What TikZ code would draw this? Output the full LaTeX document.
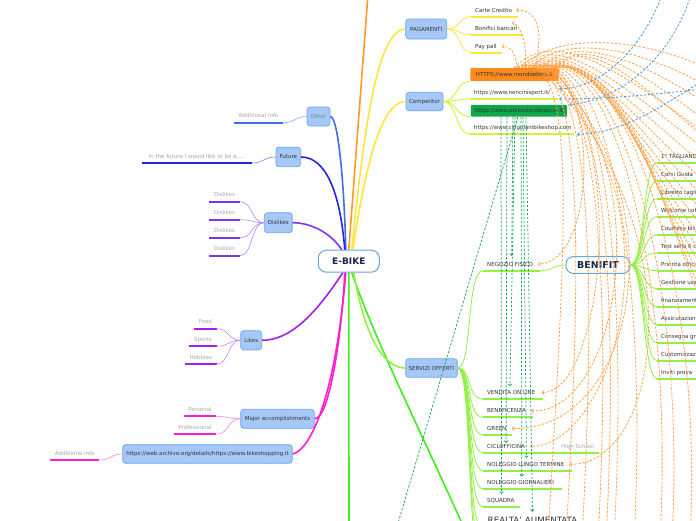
\documentclass[tikz,border=0pt]{standalone}
\usepackage{fontspec}
\setmainfont{DejaVu Sans}
\usetikzlibrary{arrows.meta,calc}
\definecolor{nfill}{HTML}{A5C8F7}
\definecolor{nbord}{HTML}{6DA4EE}
\definecolor{ctrbord}{HTML}{64A8DE}
\definecolor{navy}{HTML}{16264F}
\definecolor{txt}{HTML}{333333}
\definecolor{gry}{HTML}{A6A6A6}
\definecolor{corange}{HTML}{FF9A22}
\definecolor{cyellow}{HTML}{FFE63A}
\definecolor{cyg}{HTML}{D2F23C}
\definecolor{cblue1}{HTML}{3F6DF0}
\definecolor{cblue2}{HTML}{2424E8}
\definecolor{cpurp1}{HTML}{7A36F2}
\definecolor{cpurp2}{HTML}{A41EF2}
\definecolor{cmag}{HTML}{FF1ECF}
\definecolor{cgreen}{HTML}{3EEE1E}
\definecolor{clg}{HTML}{93F046}
\definecolor{dorange}{HTML}{FFA552}
\definecolor{dgreen}{HTML}{1BA65A}
\definecolor{dblue}{HTML}{4C9BE6}
\definecolor{cmondo}{HTML}{FF8A1C}
\definecolor{cebike}{HTML}{10A64A}
\newcommand{\fsm}{\fontsize{5.5}{6.6}\selectfont}
% left-aligned underlined leaf: name, x1, x2, y, line colour, text colour, text
\newcommand{\ulL}[7]{%
  \coordinate (#1-l) at (#2,#4);
  \coordinate (#1-r) at (#3,#4);
  \node[lftxt, text=#6, anchor=base west] (#1) at (#2+4,#4-4.5) {#7};
  \draw[ul, draw=#5] (#1-l) -- (#1-r);
}
% centred underlined leaf
\newcommand{\ulC}[7]{%
  \coordinate (#1-l) at (#2,#4);
  \coordinate (#1-r) at (#3,#4);
  \node[lftxt, text=#6, anchor=base] (#1) at ({(#2+#3)/2},#4-5) {#7};
  \draw[ul, draw=#5] (#1-l) -- (#1-r);
}
\begin{document}
\begin{tikzpicture}[x=1pt,y=-1pt,
  topic/.style={draw=nbord, fill=nfill, rounded corners=3pt, line width=0.7pt, font=\fsm, text=txt, minimum height=19pt, inner xsep=2pt, inner ysep=1pt},
  central/.style={draw=ctrbord, fill=white, rounded corners=8pt, line width=1pt, font=\fontsize{9}{10}\selectfont\bfseries, text=navy, minimum width=61pt, minimum height=22pt},
  lftxt/.style={font=\fsm, inner sep=0pt},
  ul/.style={line width=1.7pt},
  lnk/.style={line width=0.6pt},
  branch/.style={line width=1.6pt},
  linkbox/.style={font=\fsm, text=txt, inner xsep=5.5pt, inner ysep=0pt, rounded corners=1pt},
  od/.style={draw=dorange, line width=0.85pt, dash pattern=on 2.4pt off 1.6pt, -{Straight Barb[length=1.8pt,width=3.6pt]}},
  odn/.style={od, -},
  gd/.style={draw=dgreen, line width=0.75pt, dash pattern=on 2.4pt off 1.6pt, -{Straight Barb[length=1.8pt,width=3.6pt]}},
  bd/.style={draw=dblue, line width=0.8pt, dash pattern=on 2.4pt off 1.6pt, -{Straight Barb[length=1.8pt,width=3.6pt]}}
]
\useasboundingbox (0,0) rectangle (696,520);
\clip (0,0) rectangle (696,520);

% ---------- topic nodes ----------
\node[central] (ebike) at (348.8,261.2) {E-BIKE};
\node[topic, minimum width=41pt, minimum height=20pt] (pag) at (426.2,29) {PAGAMENTI};
\node[topic, minimum width=37pt, minimum height=18.5pt] (comp) at (424.5,101.5) {Competitor};
\node[topic, minimum width=23pt, text=gry!80!black] (other) at (318.5,116.5) {Other};
\node[topic, minimum width=24.7pt, minimum height=19.7pt] (future) at (288.3,157) {Future};
\node[topic, minimum width=28pt, minimum height=20pt] (dislikes) at (278.3,222.7) {Dislikes};
\node[topic, minimum width=21pt, minimum height=19.3pt] (likes) at (251.2,340.3) {Likes};
\node[topic, minimum width=73.6pt] (major) at (277.5,418.8) {Major accomplishments};
\node[topic, minimum width=169.6pt, minimum height=18.6pt] (web) at (207.5,454) {https://web.archive.org/details/https://www.bikeshopping.it};
\node[topic, minimum width=51.6pt, minimum height=18.6pt] (serv) at (431.5,368) {SERVIZI OFFERTI};
\node[central, minimum width=64pt, minimum height=16.6pt, font=\fontsize{9.5}{10}\selectfont\bfseries, rounded corners=7pt] (benifit) at (598,265) {BENIFIT};

% ---------- main branches ----------
\coordinate (topend) at (368,-6);
\draw[branch, corange] (ebike.north) -- (topend);
\draw[branch, cyellow] ([xshift=3pt]ebike.north) .. controls (362,150) and (375,29) .. (pag.west);
\draw[branch, cyellow] ([xshift=4pt]ebike.north) .. controls (365,170) and (380,101.5) .. (comp.west);
\draw[branch, cblue1] ([xshift=-3pt]ebike.north) .. controls (344,180) and (338,116.5) .. (other.east);
\draw[branch, cblue2] ([xshift=-4pt]ebike.north) .. controls (340,190) and (325,157) .. (future.east);
\draw[branch, cpurp1] ([xshift=-7pt]ebike.north) .. controls (330,232) and (310,222.7) .. (dislikes.east);
\draw[branch, cpurp2] ([xshift=-6pt]ebike.south) .. controls (315,315) and (290,340.3) .. (likes.east);
\draw[branch, cmag] ([xshift=-4pt]ebike.south) .. controls (342,330) and (330,418.8) .. (major.east);
\draw[branch, cmag] ([xshift=-3pt]ebike.south) .. controls (335,400) and (310,450) .. (web.east);
\coordinate (gdown) at (349,526);
\draw[branch, cgreen] (ebike.south) -- (gdown);
\coordinate (gdiag) at (465,530);
\draw[branch, cgreen] ([xshift=3pt]ebike.south) .. controls (375,340) and (420,430) .. (gdiag);
\draw[branch, clg] ([xshift=5pt]ebike.south) .. controls (365,340) and (385,368) .. (serv.west);

% ---------- PAGAMENTI ----------
\ulL{carte}{471}{518}{16.7}{cyellow}{txt}{Carte Credito}
\ulL{bon}{471}{523}{34.7}{cyellow}{txt}{Bonifici bancari}
\ulL{pay}{471}{502}{52.7}{cyellow}{txt}{Pay pall}
\foreach \n in {carte,bon,pay}
  \draw[lnk, cyellow, line width=0.8pt] (pag.east) .. controls ($(pag.east)+(13,0)$) and ($(\n-l)+(-12,0)$) .. (\n-l);

% ---------- Competitor ----------
\node[linkbox, fill=cmondo, minimum height=13pt] (mondo) at (514.5,74.5) {HTTPS://www.mondoebike.it};
\ulL{nenc}{470}{558}{99}{cyg}{txt}{https://www.nencinisport.it/}
\node[linkbox, fill=cebike, minimum height=11.7pt, inner xsep=4pt] (eb) at (519,110.8) {https://www.ebikestorebrescia.it};
\ulL{cing}{470}{574}{134.3}{cyg}{txt}{https://www.cingolanibikeshop.com}
\draw[lnk, cyg, line width=0.9pt] (comp.east) .. controls (457,101.5) and (456,81) .. (mondo.south west);
\draw[lnk, cyg, line width=0.9pt] (comp.east) .. controls (457,101.5) and (456,99) .. (nenc-l);
\draw[lnk, cyg, line width=0.9pt] (comp.east) .. controls (457,101.5) and (456,116.6) .. (eb.south west);
\draw[lnk, cyg, line width=0.9pt] (comp.east) .. controls (457,101.5) and (456,134.3) .. (cing-l);

% ---------- left side leaves ----------
\ulC{oth}{234}{283}{122.7}{cblue1}{gry}{Additional info}
\draw[lnk, cblue1!60] (other.west) .. controls ($(other.west)+(-12,0)$) and ($(oth-r)+(12,0)$) .. (oth-r);
\ulC{fut}{142}{252}{163}{cblue2}{gry}{In the future I would like to be a.....}
\draw[lnk, cblue2!60] (future.west) .. controls ($(future.west)+(-12,0)$) and ($(fut-r)+(12,0)$) .. (fut-r);
\ulC{dis1}{209}{240}{201.7}{cpurp1}{gry}{Dislikes}
\ulC{dis2}{209}{240}{219.7}{cpurp1}{gry}{Dislikes}
\ulC{dis3}{209}{240}{237.7}{cpurp1}{gry}{Dislikes}
\ulC{dis4}{209}{240}{255.7}{cpurp1}{gry}{Dislikes}
\foreach \n in {dis1,dis2,dis3,dis4}
  \draw[lnk, cpurp1!60] (dislikes.west) .. controls ($(dislikes.west)+(-13,0)$) and ($(\n-r)+(13,0)$) .. (\n-r);
\ulC{food}{194}{216.7}{328.7}{cpurp2}{gry}{Food}
\ulC{sports}{189}{216.7}{346.3}{cpurp2}{gry}{Sports}
\ulC{hobbies}{185}{216.7}{364}{cpurp2}{gry}{Hobbies}
\foreach \n in {food,sports,hobbies}
  \draw[lnk, cpurp2!55] (likes.west) .. controls ($(likes.west)+(-13,0)$) and ($(\n-r)+(13,0)$) .. (\n-r);
\ulC{pers}{184}{216}{416.3}{cmag}{gry}{Personal}
\ulC{prof}{174}{216}{434.3}{cmag}{gry}{Professional}
\foreach \n in {pers,prof}
  \draw[lnk, cmag!55] (major.west) .. controls ($(major.west)+(-13,0)$) and ($(\n-r)+(13,0)$) .. (\n-r);
\ulC{wadd}{50}{99.3}{460}{cmag}{gry}{Additional info}
\draw[lnk, cmag!55] (web.west) .. controls ($(web.west)+(-12,0)$) and ($(wadd-r)+(12,0)$) .. (wadd-r);

% ---------- SERVIZI OFFERTI ----------
\ulL{neg}{483}{540}{270.7}{clg}{txt}{NEGOZIO FISICO}
\ulL{ven}{483}{543}{399}{clg}{txt}{VENDITA ON LINE}
\ulL{bene}{483}{533}{417.3}{clg}{txt}{BENEFICENZA}
\ulL{green}{483}{512}{435}{clg}{txt}{GREEN}
\ulL{cic}{483}{557}{452.7}{clg}{txt}{CICLOFFICINA}
\ulL{hs}{557}{599}{452.7}{clg}{gry}{High School}
\ulL{nlt}{483}{572}{470.7}{clg}{txt}{NOLEGGIO LUNGO TERMINE}
\ulL{ngi}{483}{562}{489}{clg}{txt}{NOLEGGIO GIORNALIERI}
\ulL{squ}{483}{520}{507}{clg}{txt}{SQUADRA}
\node[font=\fontsize{8.7}{10}\selectfont, text=txt, anchor=base west, inner sep=0pt] (real) at (487.5,523) {REALTA' AUMENTATA};
\coordinate (real-l) at (483,529);
\coordinate (off1-l) at (483,547);
\coordinate (off2-l) at (483,565);
\foreach \n in {neg,ven,bene,green,cic,nlt,ngi,squ,real,off1,off2}
  \draw[lnk, clg, line width=0.8pt] (serv.east) .. controls ($(serv.east)+(15,0)$) and ($(\n-l)+(-17,0)$) .. (\n-l);

% ---------- BENIFIT ----------
\draw[lnk, clg, line width=0.8pt] (neg-r) .. controls ($(neg-r)+(13,0)$) and ($(benifit.west)+(-13,0)$) .. (benifit.west);
\foreach \i/\t in {0/1° TAGLIANDO,1/Corsi Guida,2/Libretto tagli,3/Welcome cof,4/Courtesy bik,5/Test sella 6 c,6/Priorità offici,7/Gestione usa,8/finanziament,9/Assicurazione,10/Consegna gr,11/Customizzaz,12/Inviti prova}{
  \ulL{b\i}{657}{720}{162.7+18*\i}{clg}{txt}{\t}
  \draw[lnk, clg, line width=0.8pt] (benifit.east) .. controls ($(benifit.east)+(14,0)$) and ($(b\i-l)+(-14,0)$) .. (b\i-l);
}

% ---------- dashed links ----------
\foreach \i in {0,...,12}
  \coordinate (ms\i) at ($(mondo.north west)+(44+3.5*\i,0)$);

\draw[od] (ms6) .. controls (540,45) and (545,10.5) .. ([xshift=4pt]carte.east);
\draw[od] (ms3) .. controls (528,50) and (522,25) .. ($(bon.north east)+(-6,-3)$);
\draw[od] (ms1) .. controls (515,60) and (515,46) .. ([xshift=5pt]pay.east);
\draw[od] (ms12) .. controls (600,120) and (590,262) .. ([xshift=5pt]neg.east);
\draw[od] (ms11) .. controls (630,150) and (600,394) .. ([xshift=6pt]ven.east);
\draw[od] (ms10) .. controls (660,170) and (620,414) .. ([xshift=5pt]bene.east);
\draw[od] (ms9) .. controls (680,190) and (640,431) .. ([xshift=5pt]green.east);
\draw[od] (ms8) .. controls (690,210) and (610,448) .. ([xshift=5pt]cic.east);
\draw[od] (ms7) .. controls (700,230) and (660,466) .. ([xshift=5pt]nlt.east);

\foreach \i in {0,...,12}
  \draw[odn] (ms\i) .. controls ($(ms\i)+(40+4*\i,-40+2*\i)$) and ({610+5*\i},{60+18*\i}) .. (740,{160+18*\i});
\foreach \s/\ex in {0/548,1/566,2/582,3/598,4/606,5/614,6/634,7/660,8/672,9/690}
  \draw[odn] (ms\s) .. controls ($(ms\s)+(70,-30)$) and (\ex+15,260) .. (\ex,540);
\foreach \s/\k in {2/0,5/1,8/2,11/3,12/4}
  \draw[odn] (ms\s) .. controls ($(ms\s)+(30,-35)$) and (640,{35+12*\k}) .. (710,{70+18*\k});

\coordinate (bA) at (662,-5);
\coordinate (bB) at (691,-5);
\coordinate (bC) at (710,76);
\coordinate (bD) at (710,88);
\draw[bd] (bA) .. controls (645,40) and (610,86) .. ([xshift=9pt,yshift=4pt]nenc.east);
\draw[bd] (bB) .. controls (670,60) and (620,100) .. ([xshift=2pt]eb.north east);
\draw[bd] (bC) .. controls (660,108) and (620,134) .. ([xshift=3pt]cing-r);
\draw[bd] (bD) .. controls (660,94) and (610,99) .. ([xshift=1pt]nenc-r);

\draw[gd] ([xshift=-18pt]eb.south) -- ([xshift=0.7pt,yshift=4.3pt]squ.north);
\draw[gd] ([xshift=-12pt]eb.south) -- ([yshift=1pt]cic.north);
\draw[gd] ([xshift=-6pt]eb.south) -- ([xshift=1.6pt,yshift=6pt]neg.north);
\draw[gd] ([xshift=-4pt]eb.south) -- ([xshift=-1.3pt,yshift=4pt]ven.north);
\draw[gd] ([xshift=2pt]eb.south) -- ([xshift=1.3pt,yshift=3.6pt]ngi.north);
\draw[gd] ([xshift=4pt]eb.south) -- ([xshift=0.7pt,yshift=4pt]nlt.north);
\draw[gd] ([xshift=7pt]eb.south) -- ([yshift=4.7pt]real.north);
\coordinate (gfar) at (396,530);
\draw[gd, -] ([xshift=-1pt]eb.south) -- (gfar);
\end{tikzpicture}
\end{document}
